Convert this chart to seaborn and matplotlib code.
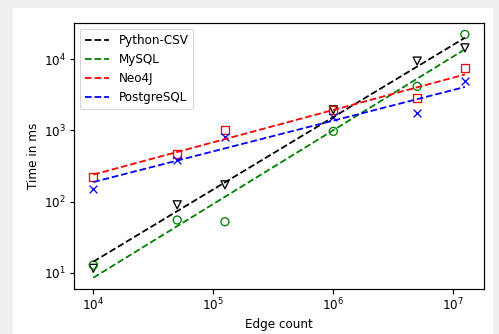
import numpy as np
import pandas as pd
import seaborn as sns
import matplotlib
matplotlib.use("Agg")
import matplotlib.pyplot as plt
from matplotlib.patches import Rectangle

# Benchmark data: query time (ms) against number of edges
edge_counts = [1e4, 5e4, 1.25e5, 1e6, 5e6, 1.25e7]
python_csv = [11.5, 90, 172, 1950, 9460, 14500]
mysql = [12.8, 55, 52, 970, 4170, 22400]
neo4j = [220, 460, 1020, 1910, 2880, 7600]
postgresql = [151, 378, 805, 1540, 1750, 4950]

series_names = ["Python-CSV", "MySQL", "Neo4J", "PostgreSQL"]
series_values = [python_csv, mysql, neo4j, postgresql]
colors = ["k", "g", "r", "b"]
markers = ["v", "o", "s", "x"]

rows = []
for name, vals in zip(series_names, series_values):
    for x, y in zip(edge_counts, vals):
        rows.append({"edges": x, "time": y, "db": name})
df = pd.DataFrame(rows)

W, H, DPI = 499, 334, 72
FS = 12
fig = plt.figure(figsize=(W / DPI, H / DPI), dpi=DPI)
fig.patch.set_facecolor("#efefef")
fig.patches.append(Rectangle((13 / W, 0), (493 - 13) / W, (H - 8) / H,
                             transform=fig.transFigure, facecolor="white",
                             edgecolor="none", zorder=-1))

ax = fig.add_axes([74 / W, (H - 289) / H, (484 - 74) / W, (289 - 23) / H])
ax.set_xscale("log")
ax.set_yscale("log")

for name, c, m in zip(series_names, colors, markers):
    sub = df[df["db"] == name]
    # power-law fit in log-log space
    k, b = np.polyfit(np.log10(sub["edges"]), np.log10(sub["time"]), 1)
    fit = pd.DataFrame({"edges": sub["edges"],
                        "time": 10 ** (k * np.log10(sub["edges"]) + b)})
    sns.lineplot(data=fit, x="edges", y="time", ax=ax, color=c,
                 linestyle="--", linewidth=1.8, label=name)
    if m == "x":
        sns.scatterplot(data=sub, x="edges", y="time", ax=ax, marker=m,
                        color=c, s=60, linewidth=1.3, legend=False)
    else:
        sns.scatterplot(data=sub, x="edges", y="time", ax=ax, marker=m,
                        facecolor="none", edgecolor=c, s=64, linewidth=1.3,
                        legend=False)

ax.set_xlim(10 ** 3.839, 10 ** 7.256)
ax.set_ylim(10 ** 0.77, 10 ** 4.511)
ax.minorticks_off()
for s in ax.spines.values():
    s.set_linewidth(1.2)
ax.tick_params(labelsize=FS, width=1.2, length=4.5)
ax.set_xlabel("Edge count", fontsize=FS)
ax.set_ylabel("Time in ms", fontsize=FS)
ax.legend(loc="upper left", fontsize=FS)

fig.savefig("out.png", dpi=DPI, facecolor=fig.get_facecolor())
